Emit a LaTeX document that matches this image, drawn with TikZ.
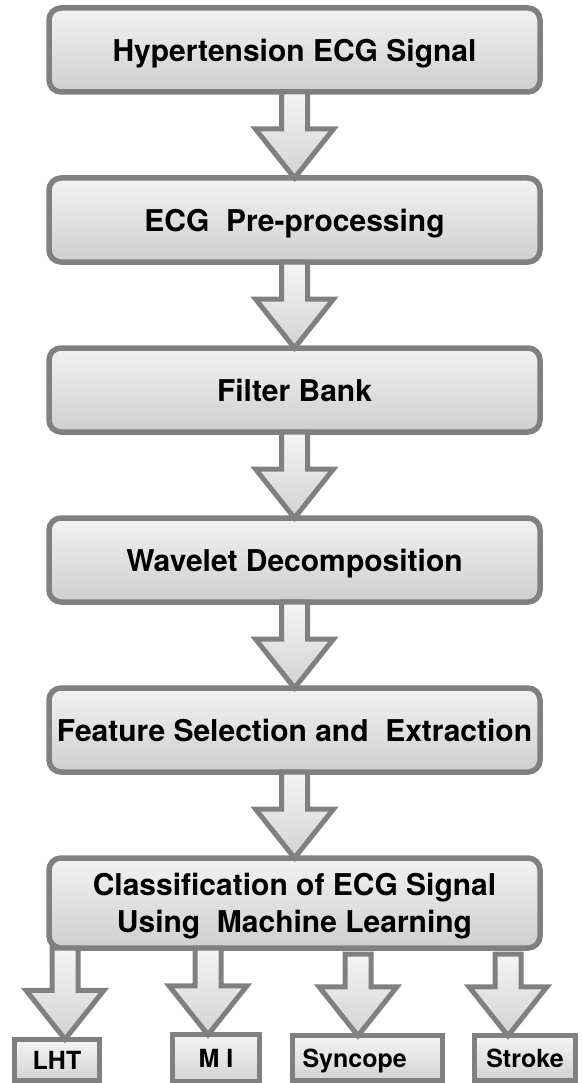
\documentclass[tikz,border=0pt]{standalone}
\usepackage{fontspec}
\setmainfont{TeX Gyre Heros}
\usetikzlibrary{positioning, calc}

% hollow block arrow pointing down: #1 = top of shaft, #2 = tip
\newcommand{\fatarrow}[2]{%
    \draw [fatarrow] let \p1 = #1, \p2 = #2 in
        (\x2-13pt,\y1) -- (\x2-13pt,\y2+49pt) -- (\x2-39pt,\y2+49pt) -- (\x2,\y2)
        -- (\x2+39pt,\y2+49pt) -- (\x2+13pt,\y2+49pt) -- (\x2+13pt,\y1) -- cycle;
}

\begin{document}
\begin{tikzpicture}[
        x=1pt, y=-1pt,
        node distance=86pt,
        stepbox/.style={rectangle, rounded corners=12pt, minimum width=491pt, minimum height=84pt,
            outer sep=0pt, draw=gray, line width=5.5pt, top color=gray!10, bottom color=gray!38,
            text centered, font=\bfseries\fontsize{30}{37}\selectfont, text depth=0pt},
        classbox/.style={rectangle, minimum height=44pt, outer sep=0pt, draw=gray, line width=5pt,
            top color=gray!8, bottom color=gray!35, font=\bfseries\fontsize{25}{30}\selectfont, text depth=0pt},
        fatarrow/.style={draw=gray, line width=5pt, top color=gray!8, bottom color=gray!35, line join=miter}
    ]
        \useasboundingbox (0,0) rectangle (581,1083);

        % ===== 主流程 =====
        \node (signal) [stepbox] at (294.5,50) {Hypertension ECG Signal};
        \node (preproc) [stepbox, below=of signal] {ECG~ Pre-processing};
        \node (filter) [stepbox, below=of preproc] {Filter Bank};
        \node (wavelet) [stepbox, below=of filter] {Wavelet Decomposition};
        \node (feature) [stepbox, below=of wavelet] {Feature Selection and~ Extraction};
        \node (classify) [stepbox, align=center, minimum height=90pt, below=of feature]
            {Classification of ECG Signal\\Using~ Machine Learning};

        % ===== 分类结果 =====
        \node (lht) [classbox, minimum width=85pt, minimum height=41.5pt] at (57,1060) {LHT};
        \node (mi) [classbox, minimum width=87pt, minimum height=46.5pt] at (216,1058) {M I};
        \node (syncope) [classbox, text width=130pt, inner xsep=10pt, align=left, minimum height=44.5pt] at (367.5,1058) {Syncope};
        \node (stroke) [classbox, minimum width=101pt, minimum height=44.5pt] at (525,1058) {Stroke};

        % ===== 箭头连接 =====
        \fatarrow{(signal.south)}{(preproc.north)}
        \fatarrow{(preproc.south)}{(filter.north)}
        \fatarrow{(filter.south)}{(wavelet.north)}
        \fatarrow{(wavelet.south)}{(feature.north)}
        \fatarrow{(feature.south)}{(classify.north)}
        \fatarrow{(classify.south)}{([xshift=8pt]lht.north)}
        \fatarrow{(classify.south)}{([xshift=-8pt]mi.north)}
        \fatarrow{([yshift=-6pt]classify.south)}{([xshift=-9.5pt]syncope.north)}
        \fatarrow{([yshift=-6pt]classify.south)}{([xshift=-17pt]stroke.north)}

    \end{tikzpicture}
\end{document}
